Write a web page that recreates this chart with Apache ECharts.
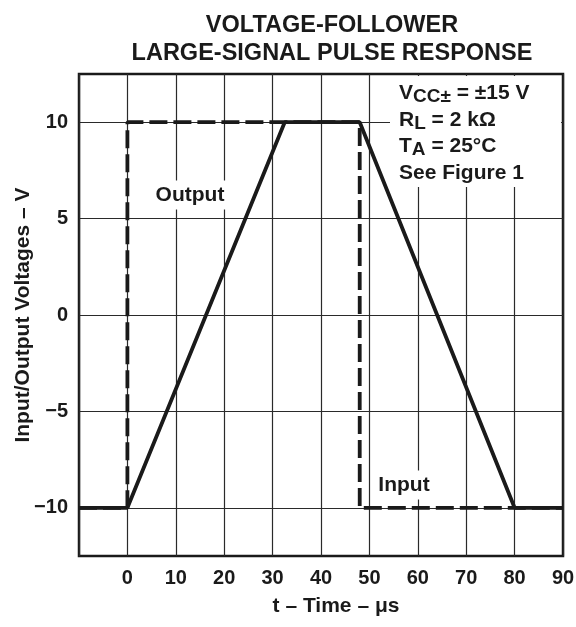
<!DOCTYPE html>
<html>
<head>
<meta charset="utf-8">
<script src="https://cdn.jsdelivr.net/npm/echarts@6/dist/echarts.min.js"></script>
<style>
  html, body { margin: 0; padding: 0; background: #fff; }
  #chart { width: 576px; height: 627px; }
</style>
</head>
<body>
<div id="chart"></div>
<script>
// pulse response, time in microseconds, voltage in volts
var inputT = [-10, 0, 0, 48, 48, 90];
var inputV = [-10, -10, 10, 10, -10, -10];
var outputT = [-10, 0, 32.5, 48, 80, 90];
var outputV = [-10, -10, 10, 10, -10, -10];
var yTicks = [-10, -5, 0, 5, 10];
var xTicks = [0, 10, 20, 30, 40, 50, 60, 70, 80, 90];

function pairs(xs, ys) {
    var out = [];
    for (var i = 0; i < xs.length; i++) {
        out.push([xs[i], ys[i]]);
    }
    return out;
}

var ink = '#1a1a1a';
var font = 'Liberation Sans, Arial, sans-serif';

var myChart = echarts.init(document.getElementById('chart'));

var option = {
    animation: false,
    title: {
        text: 'VOLTAGE-FOLLOWER\nLARGE-SIGNAL PULSE RESPONSE',
        left: 327,
        top: 7,
        textAlign: 'center',
        textStyle: {
            fontFamily: font,
            fontSize: 23.5,
            fontWeight: 'bold',
            color: ink,
            lineHeight: 28
        }
    },
    grid: {
        left: 79,
        right: 13,
        top: 74,
        bottom: 71,
        outerBoundsMode: 'none',
        show: true,
        borderColor: ink,
        borderWidth: 2.5,
        backgroundColor: 'transparent'
    },
    xAxis: {
        type: 'value',
        min: -10,
        max: 90,
        interval: 10,
        name: 't – Time – μs',
        nameLocation: 'middle',
        nameGap: 40,
        nameMoveOverlap: false,
        nameTextStyle: {
            fontFamily: font, fontSize: 21, fontWeight: 'bold', color: ink,
            padding: [0, 0, 0, 30]
        },
        axisLine: { show: false },
        axisTick: { show: false },
        axisLabel: {
            margin: 12,
            fontFamily: font, fontSize: 20, fontWeight: 'bold', color: ink,
            formatter: function (v) { return xTicks.indexOf(v) >= 0 ? String(v) : ''; }
        },
        splitLine: { show: true, lineStyle: { color: '#2a2a2a', width: 1.2 } }
    },
    yAxis: {
        type: 'value',
        min: -12.5,
        max: 12.5,
        name: 'Input/Output Voltages – V',
        nameLocation: 'middle',
        nameGap: 45,
        nameMoveOverlap: false,
        nameTextStyle: { fontFamily: font, fontSize: 21, fontWeight: 'bold', color: ink },
        axisLine: { show: false },
        axisTick: { show: false, customValues: yTicks },
        axisLabel: {
            customValues: yTicks,
            margin: 11,
            fontFamily: font, fontSize: 20, fontWeight: 'bold', color: ink,
            formatter: function (v) { return v < 0 ? '\u2212' + Math.abs(v) : String(v); }
        },
        splitLine: { show: true, lineStyle: { color: '#2a2a2a', width: 1.2 } }
    },
    series: [
        {
            name: 'Input',
            type: 'line',
            data: pairs(inputT, inputV),
            symbol: 'none',
            z: 3,
            lineStyle: { color: ink, width: 3.8, type: [18, 6], cap: 'butt' }
        },
        {
            name: 'Output',
            type: 'line',
            data: pairs(outputT, outputV),
            symbol: 'none',
            z: 4,
            lineStyle: { color: ink, width: 3.8 }
        }
    ],
    graphic: [
        {
            type: 'rect',
            z: 50,
            shape: { x: 390, y: 76, width: 171, height: 111 },
            style: { fill: '#fff' }
        },
        {
            type: 'text',
            z: 51,
            style: {
                x: 399,
                y: 80,
                text: '{m|V}{s|CC±}{m| = ±15 V}\n{m|R}{s|L}{m| = 2 kΩ}\n{m|T}{s|A}{m| = 25°C}\n{m|See Figure 1}',
                verticalAlign: 'top',
                rich: {
                    m: { fontFamily: font, fontSize: 21, fontWeight: 'bold', fill: ink, lineHeight: 26.5 },
                    s: { fontFamily: font, fontSize: 19, fontWeight: 'bold', fill: ink, lineHeight: 15, verticalAlign: 'bottom' }
                }
            }
        },
        {
            type: 'text',
            z: 51,
            style: {
                x: 190, y: 195,
                text: 'Output',
                align: 'center', verticalAlign: 'middle',
                fontFamily: font, fontSize: 21, fontWeight: 'bold', fill: ink,
                backgroundColor: '#fff', padding: [4, 3]
            }
        },
        {
            type: 'text',
            z: 51,
            style: {
                x: 404, y: 485,
                text: 'Input',
                align: 'center', verticalAlign: 'middle',
                fontFamily: font, fontSize: 21, fontWeight: 'bold', fill: ink,
                backgroundColor: '#fff', padding: [4, 3]
            }
        }
    ]
};

myChart.setOption(option);
</script>
</body>
</html>
